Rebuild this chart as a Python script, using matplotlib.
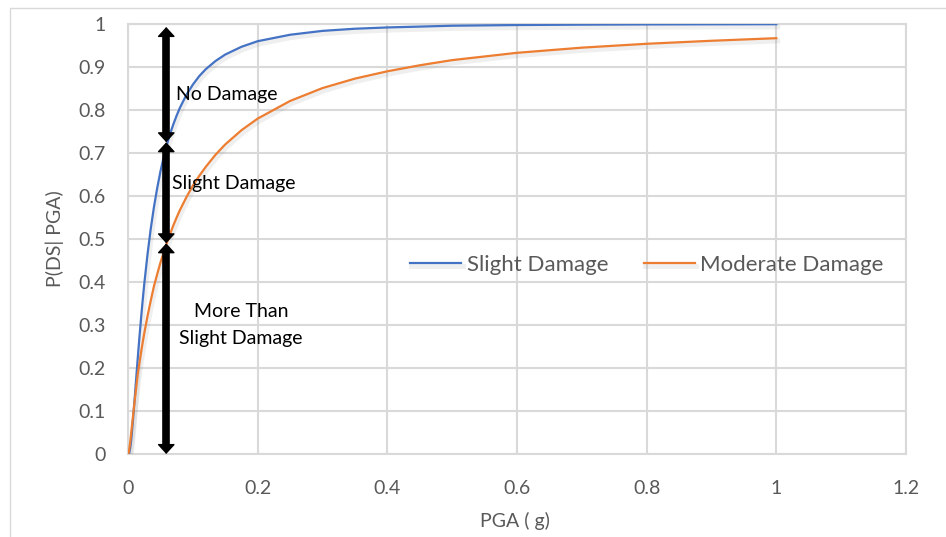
import numpy as np
import matplotlib
matplotlib.use('Agg')
import matplotlib.pyplot as plt
import matplotlib.patheffects as pe
from matplotlib.patches import Rectangle

plt.rcParams['font.family'] = ['Lato', 'DejaVu Sans']

# PGA values (g) and read-off probabilities of each damage state

pga = [0, 0.001, 0.002, 0.0035, 0.005, 0.0075, 0.01, 0.0125, 0.015, 0.0175, 0.02, 0.0225, 0.025,
       0.03, 0.035, 0.04, 0.045, 0.05, 0.055, 0.06, 0.065, 0.07, 0.075, 0.08, 0.09, 0.1, 0.11,
       0.12, 0.135, 0.15, 0.175, 0.2, 0.25, 0.3, 0.35, 0.4, 0.45, 0.5, 0.6, 0.7, 0.8, 0.9, 1.0]
p_slight = [0, 0.0003, 0.003, 0.0147, 0.033, 0.075, 0.123, 0.173, 0.222, 0.269, 0.313, 0.355, 0.394,
            0.463, 0.523, 0.574, 0.618, 0.657, 0.690, 0.719, 0.745, 0.767, 0.787, 0.805, 0.835, 0.859, 0.879,
            0.895, 0.914, 0.929, 0.947, 0.960, 0.975, 0.984, 0.989, 0.992, 0.994, 0.996, 0.9976, 0.9985,
            0.999, 0.9993, 0.9995]
p_moderate = [0, 0.003, 0.012, 0.029, 0.05, 0.085, 0.12, 0.152, 0.185, 0.21, 0.235, 0.258, 0.28,
              0.32, 0.356, 0.39, 0.418, 0.445, 0.469, 0.491, 0.512, 0.532, 0.550, 0.567, 0.597, 0.624, 0.647,
              0.668, 0.696, 0.720, 0.753, 0.780, 0.821, 0.851, 0.873, 0.890, 0.904, 0.916, 0.933, 0.945,
              0.954, 0.961, 0.967]

series_names = ['Slight Damage', 'Moderate Damage']

# damage band arrows at one PGA level: (bottom, top) and their labels
arrow_x = 0.059
bands = [(0.725, 0.993), (0.49, 0.725), (0.0, 0.49)]
band_labels = ['No Damage', 'Slight Damage', 'More Than\nSlight Damage']

xticks = [0, 0.2, 0.4, 0.6, 0.8, 1, 1.2]
xtick_labels = ['0', '0.2', '0.4', '0.6', '0.8', '1', '1.2']
yticks = [0, 0.1, 0.2, 0.3, 0.4, 0.5, 0.6, 0.7, 0.8, 0.9, 1]
ytick_labels = ['0', '0.1', '0.2', '0.3', '0.4', '0.5', '0.6', '0.7', '0.8', '0.9', '1']

grey = '#595959'
gridc = '#D9D9D9'

fig = plt.figure(figsize=(9.46, 5.37), dpi=100)
ax = fig.add_axes([128/946, 83/537, (906-128)/946, (454-24)/537])

# chart frame like excel
fig.patches.append(Rectangle((10/946, -0.1), 1.0, 1.1 - 8/537, transform=fig.transFigure,
                             fill=False, edgecolor=gridc, lw=1))

shadow = [pe.SimpleLineShadow(offset=(1, -2), shadow_color='#808080', alpha=0.12, linewidth=3.5), pe.Normal()]
ax.plot(pga, p_slight, color='#4472C4', lw=1.6, label=series_names[0], path_effects=shadow, zorder=3)
ax.plot(pga, p_moderate, color='#ED7D31', lw=1.6, label=series_names[1], path_effects=shadow, zorder=3)

# double headed arrows
for lo, hi in bands:
    ax.annotate('', xy=(arrow_x, lo), xytext=(arrow_x, hi),
                arrowprops=dict(arrowstyle='<|-|>,head_length=0.6,head_width=0.55',
                                lw=1, color='black', shrinkA=0, shrinkB=0), zorder=4)
    ax.plot([arrow_x, arrow_x], [lo + 0.012, hi - 0.012], color='black', lw=5.5,
            solid_capstyle='butt', zorder=4)

ax.text(0.074, 0.837, band_labels[0], fontsize=14, color='black', va='center', ha='left', zorder=5)
ax.text(0.068, 0.628, band_labels[1], fontsize=14, color='black', va='center', ha='left', zorder=5)
ax.text(0.174, 0.30, band_labels[2], fontsize=14, color='black', va='center', ha='center',
        linespacing=1.65, zorder=5)

ax.set_xlim(0, 1.2)
ax.set_ylim(0, 1)
ax.set_xticks(xticks)
ax.set_xticklabels(xtick_labels)
ax.set_yticks(yticks)
ax.set_yticklabels(ytick_labels)
ax.tick_params(length=0, labelsize=14, labelcolor=grey)
ax.tick_params(axis='x', pad=19)
ax.tick_params(axis='y', pad=16)
ax.grid(True, color=gridc, lw=1.5)
ax.set_axisbelow(True)
for s in ax.spines.values():
    s.set_color(gridc)
    s.set_linewidth(1.5)

fig.text(515/946, 1 - 521/537, 'PGA ( g)', fontsize=14, color=grey, ha='center', va='center')
fig.text(55/946, 1 - 239/537, 'P(DS| PGA)', fontsize=14, color=grey, ha='center', va='center',
         rotation=90)

ax.legend(loc='center', bbox_to_anchor=(0.667, 0.44), ncol=2, frameon=False, fontsize=16,
          handlelength=2.3, handletextpad=0.25, columnspacing=1.6, labelcolor=grey)

fig.savefig('out.png', dpi=100)
